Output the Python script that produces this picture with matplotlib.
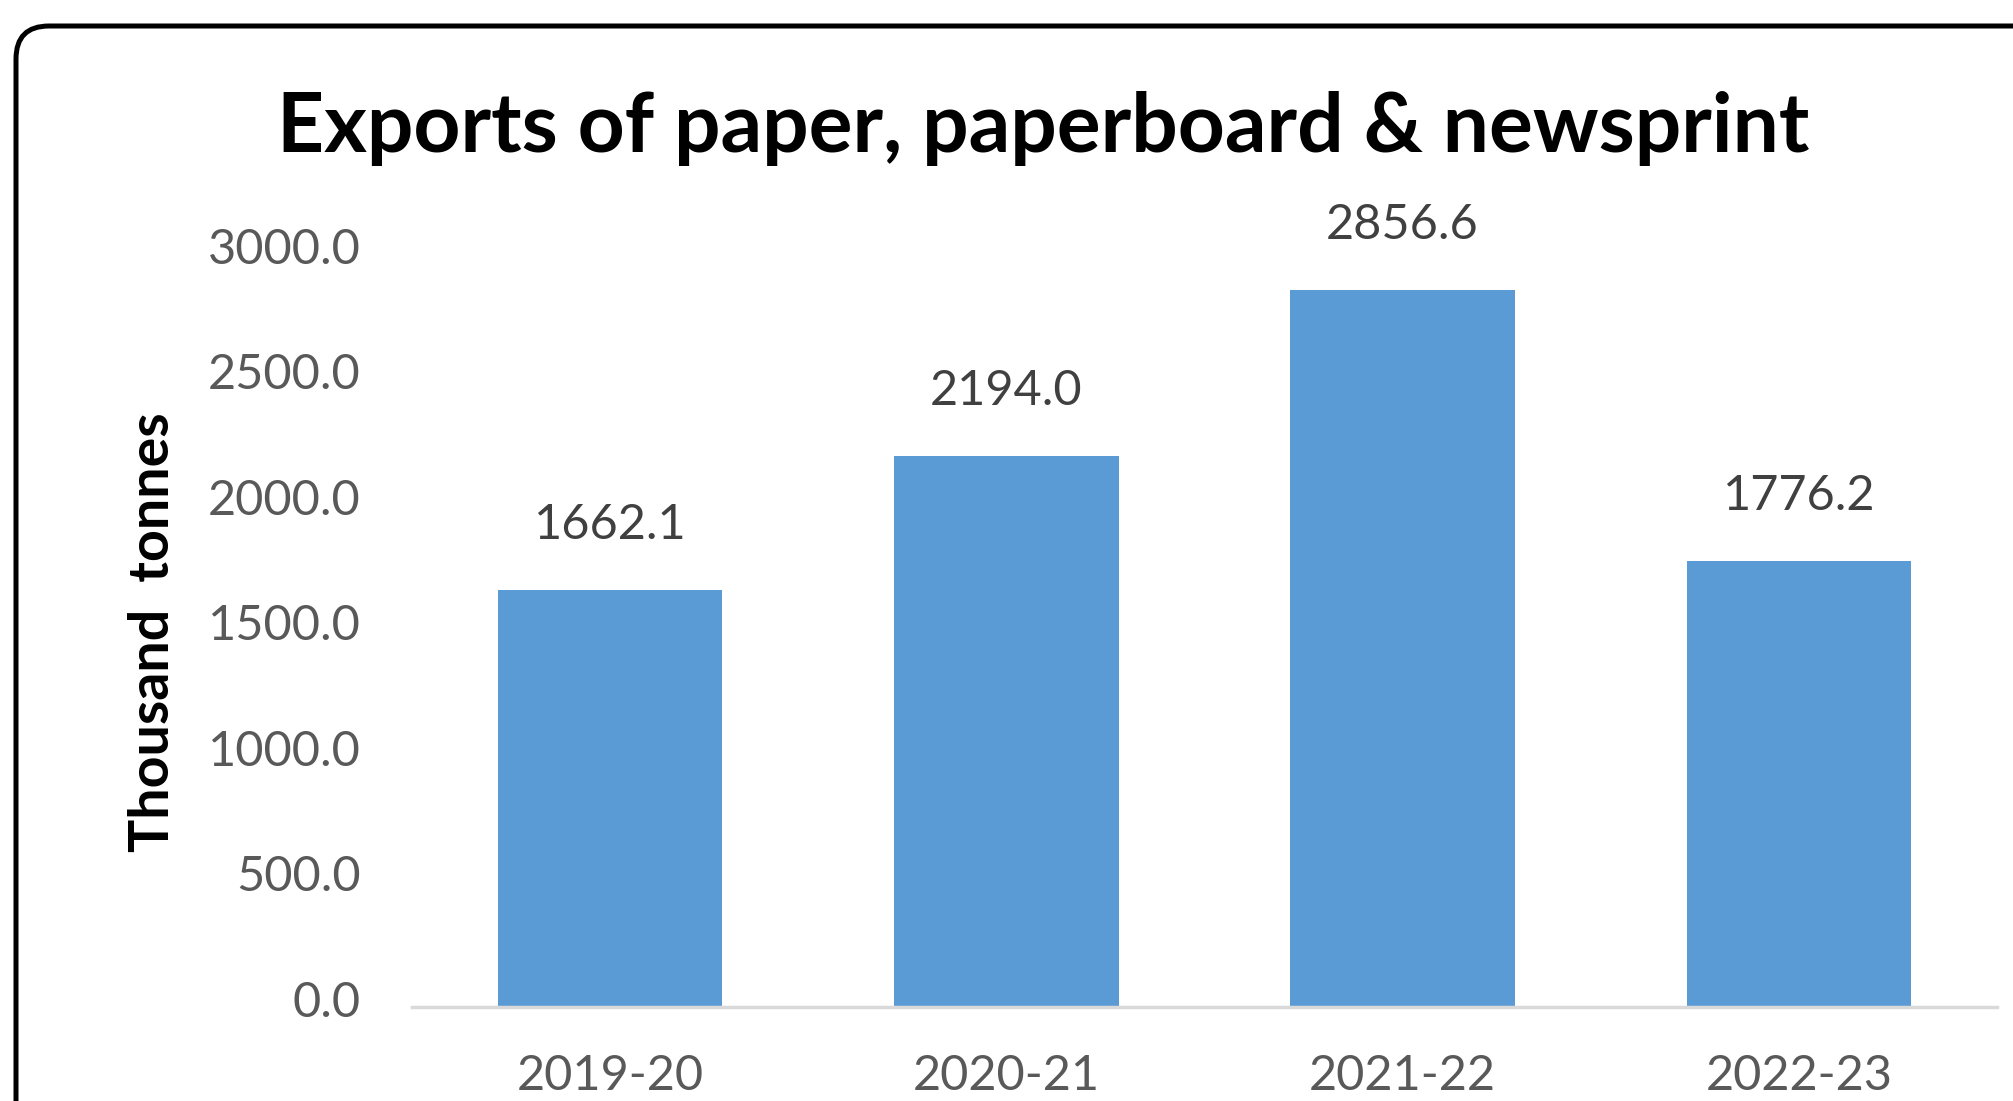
import matplotlib
matplotlib.use("Agg")
import matplotlib.pyplot as plt
import matplotlib.transforms as mtransforms
from matplotlib.patches import FancyBboxPatch

# Export volumes by financial year (thousand tonnes)
years = ["2019-20", "2020-21", "2021-22", "2022-23"]
exports = [1662.1, 2194.0, 2856.6, 1776.2]
y_ticks = [0, 500, 1000, 1500, 2000, 2500, 3000]

title = "Exports of paper, paperboard & newsprint"
y_label = "Thousand  tonnes"

bar_color = "#5B9BD5"
tick_color = "#595959"
label_color = "#404040"

plt.rcParams["font.family"] = ["Lato", "DejaVu Sans"]

W, H, DPI = 2013, 1101, 100
fig = plt.figure(figsize=(W / DPI, H / DPI), dpi=DPI)
fig.patch.set_facecolor("white")

# plot area in pixel terms: x 412..1997, y 254..1007 (from top)
ax = fig.add_axes([412 / W, (H - 1007) / H, (1997 - 412) / W, (1007 - 254) / H])

x = list(range(len(years)))
bars = ax.bar(x, exports, width=0.566, color=bar_color, zorder=2)

for xi, v in zip(x, exports):
    ax.annotate(f"{v:.1f}", (xi, v), xytext=(0, 47), textcoords="offset points",
                ha="center", va="center", fontsize=35, color=label_color)

ax.set_xlim(-0.5, len(years) - 0.5)
ax.set_ylim(0, 3000)
ax.set_xticks(x)
ax.set_xticklabels(years)
ax.set_yticks(y_ticks)
ax.set_yticklabels([f"{t:.1f}" for t in y_ticks])
ax.tick_params(axis="both", length=0, labelsize=35, labelcolor=tick_color)
ax.tick_params(axis="y", pad=37)
ax.tick_params(axis="x", pad=34)

# y labels sit a little above their tick positions
nudge = mtransforms.ScaledTranslation(0, 6 / 72, fig.dpi_scale_trans)
for lbl in ax.get_yticklabels():
    lbl.set_transform(lbl.get_transform() + nudge)

for side in ["top", "right", "left"]:
    ax.spines[side].set_visible(False)
ax.spines["bottom"].set_color("#D9D9D9")
ax.spines["bottom"].set_linewidth(2.5)
ax.spines["bottom"].set_zorder(3)

fig.text(1043 / W, (H - 152) / H, title, ha="center", va="baseline",
         fontsize=59, fontweight="bold", color="black")
fig.text(153 / W, (H - 632) / H, y_label, rotation=90, ha="center", va="center",
         fontsize=40, fontweight="bold", color="black")

# rounded frame around the chart, running past the right and bottom edges
frame = FancyBboxPatch((16 / DPI, -40 / DPI), 2040 / DPI, (H - 26 + 40) / DPI,
                       boxstyle="round,pad=0,rounding_size=0.33",
                       transform=fig.dpi_scale_trans, facecolor="none",
                       edgecolor="black", linewidth=3.6, zorder=10)
fig.add_artist(frame)

fig.savefig("out.png", dpi=DPI, facecolor="white")
